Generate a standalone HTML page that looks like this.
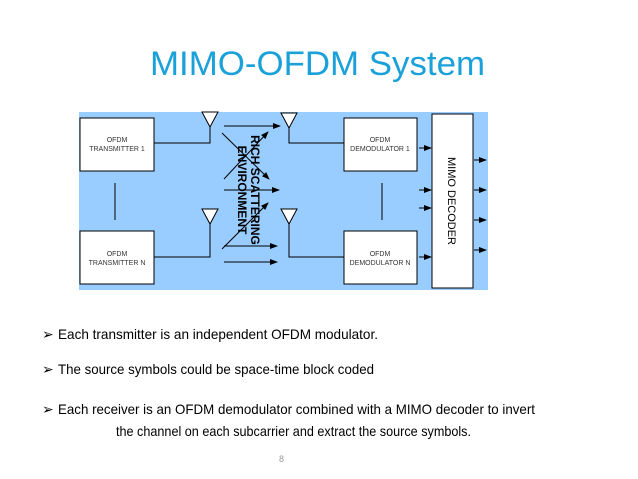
<!DOCTYPE html>
<html><head><meta charset="utf-8"><style>
html,body{margin:0;padding:0;background:#fff;width:638px;height:479px;overflow:hidden}
</style></head><body>
<svg width="638" height="479" viewBox="0 0 638 479" xmlns="http://www.w3.org/2000/svg" font-family="Liberation Sans, sans-serif">
<defs><marker id="a" markerWidth="8" markerHeight="6" refX="7" refY="3" orient="auto" markerUnits="userSpaceOnUse"><path d="M0,0 L8,3 L0,6 Z" fill="#000"/></marker></defs>
<text x="150" y="75" textLength="335" lengthAdjust="spacingAndGlyphs" font-size="34" fill="#1ba1d9">MIMO-OFDM System</text>
<rect x="79" y="112" width="409" height="178" fill="#99ccff"/>
<g stroke="#000" stroke-width="1" fill="#fff">
<rect x="80" y="118" width="74" height="53"/>
<rect x="80" y="231" width="74" height="53"/>
<rect x="344" y="118" width="73" height="53"/>
<rect x="344" y="231" width="73" height="53"/>
<rect x="432" y="114" width="41" height="174"/>
<polygon points="202,112 218,112 210,127"/>
<polygon points="202,209 218,209 210,224"/>
<polygon points="281,113 297,113 289,128"/>
<polygon points="281,209 297,209 289,224"/>
</g>
<g stroke="#000" stroke-width="1" fill="none">
<polyline points="154,143 210,143 210,127"/>
<polyline points="154,257 210,257 210,224"/>
<polyline points="344,143 289,143 289,128"/>
<polyline points="344,257 289,257 289,224"/>
<line x1="115" y1="183" x2="115" y2="220"/>
<line x1="382" y1="183" x2="382" y2="220"/>
</g>
<g stroke="#000" stroke-width="1" marker-end="url(#a)">
<line x1="224" y1="126" x2="280" y2="126"/>
<line x1="224" y1="190" x2="279" y2="190"/>
<line x1="224" y1="246" x2="277" y2="246"/>
<line x1="224" y1="262" x2="277" y2="262"/>
<line x1="222" y1="133" x2="269" y2="179"/>
<line x1="224" y1="179" x2="268" y2="132"/>
<line x1="222" y1="249" x2="268" y2="203"/>
<line x1="419" y1="148" x2="431" y2="148"/>
<line x1="419" y1="190" x2="431" y2="190"/>
<line x1="419" y1="208" x2="431" y2="208"/>
<line x1="419" y1="257" x2="431" y2="257"/>
<line x1="474" y1="160" x2="486" y2="160"/>
<line x1="474" y1="190" x2="486" y2="190"/>
<line x1="474" y1="220" x2="486" y2="220"/>
<line x1="474" y1="250" x2="486" y2="250"/>
</g>
<g font-size="7" fill="#333" text-anchor="middle">
<text x="117" y="142">OFDM</text><text x="117" y="151">TRANSMITTER 1</text>
<text x="117" y="256">OFDM</text><text x="117" y="265">TRANSMITTER N</text>
<text x="380" y="142">OFDM</text><text x="380" y="151">DEMODULATOR 1</text>
<text x="380" y="256">OFDM</text><text x="380" y="265">DEMODULATOR N</text>
</g>
<text transform="translate(448,201) rotate(90)" text-anchor="middle" font-size="11" fill="#000">MIMO DECODER</text>
<g transform="translate(249,190) rotate(90)" text-anchor="middle" font-size="12" font-weight="bold" fill="#000">
<text x="0" y="-2">RICH SCATTERING</text>
<text x="0" y="11">ENVIRONMENT</text>
</g>
<g font-size="14" fill="#000">
<text x="42" y="339">➢</text>
<text x="58" y="339" textLength="320" lengthAdjust="spacingAndGlyphs">Each transmitter is an independent OFDM modulator.</text>
<text x="42" y="374">➢</text>
<text x="58" y="374" textLength="316" lengthAdjust="spacingAndGlyphs">The source symbols could be space-time block coded</text>
<text x="42" y="414">➢</text>
<text x="58" y="414" textLength="477" lengthAdjust="spacingAndGlyphs">Each receiver is an OFDM demodulator combined with a MIMO decoder to invert</text>
<text x="116" y="436" textLength="355" lengthAdjust="spacingAndGlyphs">the channel on each subcarrier and extract the source symbols.</text>
</g>
<text x="279" y="462" font-size="9" fill="#999">8</text>
</svg>
</body></html>
